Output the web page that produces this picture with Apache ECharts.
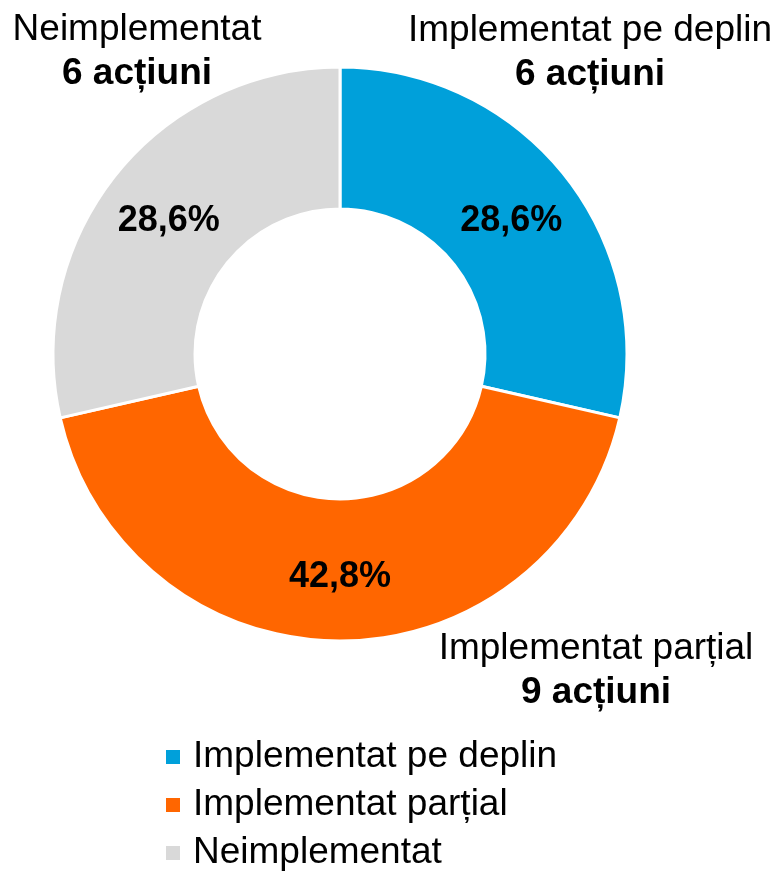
<!DOCTYPE html>
<html>
<head>
<meta charset="utf-8">
<script src="https://cdn.jsdelivr.net/npm/echarts@6/dist/echarts.min.js"></script>
<style>
  html, body { margin: 0; padding: 0; background: #fff; }
  #chart { width: 777px; height: 874px; }
</style>
</head>
<body>
<div id="chart"></div>
<script>
const categories = ['Implementat pe deplin', 'Implementat parțial', 'Neimplementat'];
const counts = [6, 9, 6];
const percentLabels = ['28,6%', '42,8%', '28,6%'];
const colors = ['#00A0DA', '#FF6600', '#D9D9D9'];
const unitLabel = 'acțiuni';

const FONT = '"Liberation Sans", Arial, sans-serif';

// positions of the outer callout texts (center x, center y of first line)
const calloutPos = [[590, 31], [596, 649], [137, 30]];

const chart = echarts.init(document.getElementById('chart'), null, { renderer: 'canvas' });

const graphics = categories.map((c, i) => ({
  type: 'text',
  x: calloutPos[i][0],
  y: calloutPos[i][1] - 22,
  style: {
    text: '{n|' + c + '}\n{b|' + counts[i] + ' ' + unitLabel + '}',
    align: 'center',
    verticalAlign: 'top',
    fontFamily: FONT,
    rich: {
      n: { fontSize: 37, fontFamily: FONT, color: '#000', lineHeight: 44 },
      b: { fontSize: 37, fontFamily: FONT, fontWeight: 'bold', color: '#000', lineHeight: 44 }
    }
  }
}));

chart.setOption({
  animation: false,
  color: colors,
  legend: {
    orient: 'vertical',
    left: 166,
    top: 737,
    height: 137,
    padding: 0,
    itemWidth: 14,
    itemHeight: 14,
    itemGap: 8,
    icon: 'rect',
    itemStyle: { borderWidth: 0 },
    textStyle: {
      fontFamily: FONT,
      fontSize: 37,
      color: '#000',
      lineHeight: 40,
      padding: [0, 0, 0, 8]
    },
    data: categories
  },
  graphic: graphics,
  series: [{
    type: 'pie',
    center: [340, 354],
    radius: [145, 287],
    startAngle: 90,
    clockwise: true,
    avoidLabelOverlap: false,
    itemStyle: { borderColor: '#fff', borderWidth: 3 },
    label: {
      show: true,
      position: 'inside',
      fontFamily: FONT,
      fontSize: 36,
      fontWeight: 'bold',
      color: '#000',
      offset: [0, 4],
      formatter: p => percentLabels[p.dataIndex]
    },
    labelLine: { show: false },
    emphasis: { disabled: true },
    data: categories.map((c, i) => ({ name: c, value: counts[i] }))
  }]
});
</script>
</body>
</html>
